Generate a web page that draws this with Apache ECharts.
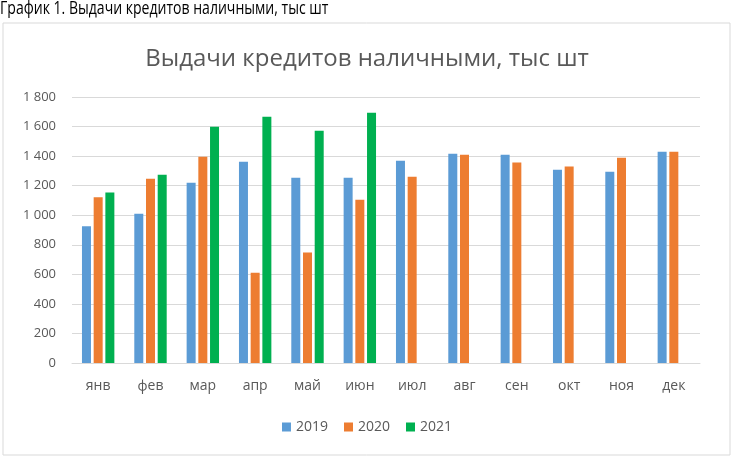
<!DOCTYPE html>
<html>
<head>
<meta charset="utf-8">
<script src="https://cdn.jsdelivr.net/npm/echarts@6/dist/echarts.min.js"></script>
<style>
  html, body { margin: 0; padding: 0; background: #fff; }
  #chart { width: 734px; height: 461px; }
</style>
</head>
<body>
<div id="chart"></div>
<script>
  //данные
  var months = ['янв', 'фев', 'мар', 'апр', 'май', 'июн', 'июл', 'авг', 'сен', 'окт', 'ноя', 'дек'];
  var y2019 = [925, 1010, 1220, 1362, 1254, 1254, 1369, 1416, 1410, 1308, 1295, 1430];
  var y2020 = [1121, 1247, 1396, 611, 747, 1105, 1261, 1410, 1356, 1329, 1389, 1430];
  var y2021 = [1153, 1274, 1599, 1667, 1572, 1694, null, null, null, null, null, null];
  var yTicks = [0, 200, 400, 600, 800, 1000, 1200, 1400, 1600, 1800];

  var font = 'Open Sans';
  var chart = echarts.init(document.getElementById('chart'));
  chart.setOption({
    animation: false,
    textStyle: { fontFamily: font },
    title: {
      text: 'Выдачи кредитов наличными, тыс шт',
      left: 'center',
      top: 42,
      textStyle: { fontFamily: font, fontSize: 24, fontWeight: 'normal', color: '#595959' }
    },
    graphic: [{ //подпись над диаграммой, сжата по ширине как узкий шрифт
      type: 'text',
      left: 0,
      top: 0,
      scaleX: 0.78,
      style: {
        text: 'График 1. Выдачи кредитов наличными, тыс шт',
        font: '18px "Open Sans"',
        fill: '#000'
      },
      silent: true
    }, { //рамка диаграммы
      type: 'rect',
      shape: { x: 3, y: 23, width: 727, height: 432 },
      style: { fill: 'none', stroke: '#d9d9d9', lineWidth: 1 },
      silent: true
    }],
    legend: {
      data: ['2019', '2020', '2021'],
      bottom: 22,
      left: 'center',
      itemWidth: 9,
      itemHeight: 9,
      itemGap: 16,
      icon: 'rect',
      textStyle: { fontFamily: font, fontSize: 14, color: '#595959' }
    },
    grid: {
      left: 72,
      right: 34,
      top: 97,
      bottom: 98
    },
    xAxis: {
      type: 'category',
      data: months,
      axisLine: { lineStyle: { color: '#d9d9d9', width: 1 } },
      axisTick: { show: false },
      axisLabel: { color: '#595959', fontSize: 14, margin: 16 }
    },
    yAxis: {
      type: 'value',
      min: 0,
      max: 1800,
      interval: 200,
      axisLine: { show: false },
      axisTick: { show: false },
      axisLabel: {
        color: '#595959',
        fontSize: 13,
        margin: 16,
        formatter: function (v) {
          return yTicks.indexOf(v) >= 0 ? String(v).replace(/\B(?=(\d{3})+(?!\d))/g, ' ') : '';
        }
      },
      splitLine: { lineStyle: { color: '#d9d9d9', width: 1 } }
    },
    series: [{
      name: '2019',
      type: 'bar',
      data: y2019,
      barWidth: 9,
      barGap: '30%',
      itemStyle: { color: '#5b9bd5' }
    }, {
      name: '2020',
      type: 'bar',
      data: y2020,
      barWidth: 9,
      barGap: '30%',
      itemStyle: { color: '#ed7d31' }
    }, {
      name: '2021',
      type: 'bar',
      data: y2021,
      barWidth: 9,
      barGap: '30%',
      itemStyle: { color: '#00b050' }
    }]
  });
</script>
</body>
</html>
